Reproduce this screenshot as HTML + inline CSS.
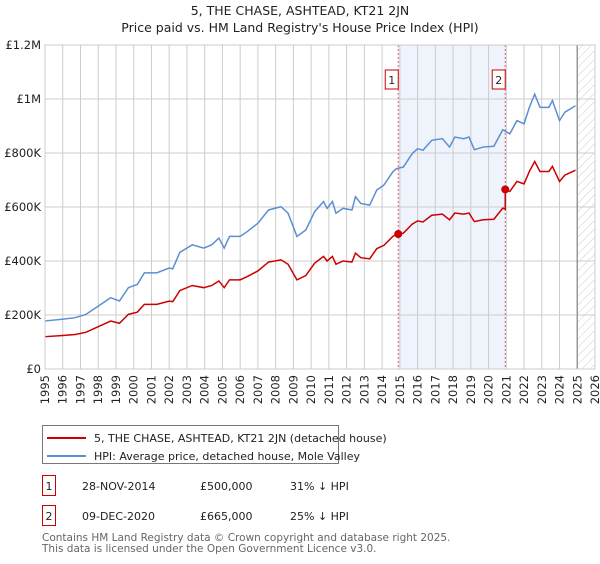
<!DOCTYPE html>
<html><head><meta charset="utf-8"><style>
body{margin:0;background:#fff;font-family:"DejaVu Sans","Liberation Sans",sans-serif;}
svg text{font-family:"DejaVu Sans","Liberation Sans",sans-serif;}
</style></head><body>
<svg id="chart" width="600" height="560" xmlns="http://www.w3.org/2000/svg">
<text x="300" y="15" font-size="12.5" text-anchor="middle" fill="#222">5, THE CHASE, ASHTEAD, KT21 2JN</text>
<text x="300" y="32" font-size="12.5" text-anchor="middle" fill="#222">Price paid vs. HM Land Registry's House Price Index (HPI)</text>
<g id="plot"></g>
<g>
<rect x="42.5" y="425.5" width="296" height="38" fill="#fff" stroke="#777"/>
<line x1="47" y1="438" x2="86" y2="438" stroke="#cc0000" stroke-width="2"/>
<text x="94" y="442" font-size="11" fill="#222">5, THE CHASE, ASHTEAD, KT21 2JN (detached house)</text>
<line x1="47" y1="456" x2="86" y2="456" stroke="#5b8fd4" stroke-width="2"/>
<text x="94" y="460" font-size="11" fill="#222">HPI: Average price, detached house, Mole Valley</text>
</g>
<g font-size="11" fill="#222">
<rect x="42.5" y="475.5" width="13" height="20" fill="#fff" stroke="#cc0000"/>
<text x="49" y="490" text-anchor="middle">1</text>
<text x="82" y="490">28-NOV-2014</text><text x="200" y="490">£500,000</text><text x="290" y="490">31% ↓ HPI</text>
<rect x="42.5" y="505.5" width="13" height="20" fill="#fff" stroke="#cc0000"/>
<text x="49" y="520" text-anchor="middle">2</text>
<text x="82" y="520">09-DEC-2020</text><text x="200" y="520">£665,000</text><text x="290" y="520">25% ↓ HPI</text>
</g>
<text x="42" y="541" font-size="10.5" fill="#666">Contains HM Land Registry data © Crown copyright and database right 2025.</text>
<text x="42" y="552" font-size="10.5" fill="#666">This data is licensed under the Open Government Licence v3.0.</text>
</svg>
<script>
const hpiYears=[1995,1995.9,1996.7,1997.3,1998,1998.7,1999.2,1999.7,2000.2,2000.6,2001.3,2002,2002.2,2002.6,2003.3,2003.95,2004.4,2004.8,2005.1,2005.4,2006,2006.4,2007,2007.6,2008.3,2008.7,2009.2,2009.7,2010.2,2010.7,2010.9,2011.2,2011.4,2011.8,2012.3,2012.5,2012.8,2013.3,2013.7,2014.1,2014.6,2014.8,2015.2,2015.7,2016,2016.3,2016.8,2017.4,2017.8,2018.1,2018.6,2018.9,2019.2,2019.7,2020.3,2020.8,2021.2,2021.6,2022,2022.3,2022.6,2022.9,2023.4,2023.6,2024,2024.3,2024.6,2024.9];
const hpiValues=[178,184,190,202,233,264,252,301,313,356,356,374,371,432,460,448,460,485,448,491,491,509,540,589,601,577,491,515,583,620,595,620,577,595,589,638,613,607,663,681,730,742,748,798,816,810,847,853,822,859,853,859,812,822,825,886,871,920,908,969,1018,969,969,994,920,951,963,975];
const saleYears=[2014.91,2020.94];
const salePrices=[500,665];
const saleLabels=["1","2"];
const yTicks=[0,200,400,600,800,1000,1200];
const yTickLabels=["£0","£200K","£400K","£600K","£800K","£1M","£1.2M"];
const xTicks=[];for(let y=1995;y<=2026;y++)xTicks.push(y);
const NS="http://www.w3.org/2000/svg";
const L=45,R=595,T=45,B=369;
const xs=y=>L+(y-1995)/(2026-1995)*(R-L);
const ys=v=>B-v/1200*(B-T);
const g=document.getElementById('plot');
function mk(t,a,p){const e=document.createElementNS(NS,t);for(const k in a)e.setAttribute(k,a[k]);(p||g).appendChild(e);return e;}
function hpiAt(y){for(let i=0;i<hpiYears.length-1;i++){if(y<=hpiYears[i+1]){const f=(y-hpiYears[i])/(hpiYears[i+1]-hpiYears[i]);return hpiValues[i]+f*(hpiValues[i+1]-hpiValues[i]);}}return hpiValues[hpiValues.length-1];}
// shaded band
const band=mk('rect',{x:xs(saleYears[0]),y:T,width:xs(saleYears[1])-xs(saleYears[0]),height:B-T,fill:'#eef3fc'});


// hatch
const defs=mk('defs',{});
const pat=mk('pattern',{id:'hatch',width:6,height:6,patternUnits:'userSpaceOnUse',patternTransform:'rotate(45)'},defs);
mk('line',{x1:0,y1:0,x2:0,y2:6,stroke:'#ccc','stroke-width':1},pat);
const hatch=mk('rect',{x:xs(2025),y:T,width:R-xs(2025),height:B-T,fill:'url(#hatch)'});


// grid
xTicks.forEach(y=>{const l=mk('line',{x1:xs(y),y1:T,x2:xs(y),y2:B,stroke:'#cccccc','stroke-width':1});


const t=mk('text',{x:0,y:0,'font-size':11.5,fill:'#222','text-anchor':'end',transform:`translate(${xs(y)+4},${B+6}) rotate(-90)`});t.textContent=y;

});
yTicks.forEach((v,i)=>{const l=mk('line',{x1:L,y1:ys(v),x2:R,y2:ys(v),stroke:'#cccccc','stroke-width':1});


const t=mk('text',{x:L-4,y:ys(v)+4,'font-size':11.5,fill:'#222','text-anchor':'end'});t.textContent=yTickLabels[i];

});
mk('line',{x1:xs(2025),y1:T,x2:xs(2025),y2:B,stroke:'#999','stroke-width':1.5});
// sale lines
saleYears.forEach((y,i)=>{const l=mk('line',{x1:xs(y),y1:T,x2:xs(y),y2:B,stroke:'#e06070','stroke-width':1,'stroke-dasharray':'2,2'});


mk('rect',{x:xs(y)-13,y:70,width:13,height:19,fill:'#fff',stroke:'#cc0000'});
const t=mk('text',{x:xs(y)-6.5,y:84,'font-size':11,fill:'#222','text-anchor':'middle'});t.textContent=saleLabels[i];

});
// HPI line
const hp=mk('polyline',{points:hpiYears.map((y,i)=>xs(y)+','+ys(hpiValues[i])).join(' '),fill:'none',stroke:'#5b8fd4','stroke-width':1.5});


// price paid line (indexed from sales)
const r0=salePrices[0]/hpiAt(saleYears[0]),r1=salePrices[1]/hpiAt(saleYears[1]);
const pts=[];hpiYears.forEach((y,i)=>{if(y<saleYears[1])pts.push(xs(y)+','+ys(hpiValues[i]*r0));});
pts.push(xs(saleYears[1])+','+ys(hpiAt(saleYears[1])*r0));
pts.push(xs(saleYears[1])+','+ys(salePrices[1]));
hpiYears.forEach((y,i)=>{if(y>saleYears[1])pts.push(xs(y)+','+ys(hpiValues[i]*r1));});
const pp=mk('polyline',{points:pts.join(' '),fill:'none',stroke:'#cc0000','stroke-width':1.5});


saleYears.forEach((y,i)=>{const c=mk('circle',{cx:xs(y),cy:ys(salePrices[i]),r:4,fill:'#cc0000'});

});
mk('rect',{x:L,y:T,width:R-L,height:B-T,fill:'none',stroke:'#cccccc'});
</script>
</body></html>
